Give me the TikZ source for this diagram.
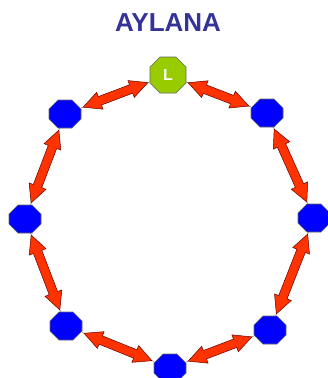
\documentclass[tikz,border=0pt]{standalone}
\usepackage{fontspec}
\setmainfont{Liberation Sans}
\usetikzlibrary{calc,backgrounds}
\definecolor{titleblue}{HTML}{333399}
\definecolor{lgreen}{HTML}{99CC00}
\definecolor{arrowred}{HTML}{FF3300}
\tikzset{
 octline/.style={draw=gray!80!black, line width=0.6pt},
 box/.style={rectangle, inner sep=0pt, draw=none},
 leadertext/.style={text=white, font=\bfseries\fontsize{16}{16}\selectfont, inner sep=0pt},
 link/.style={draw=gray, line width=0.5pt},
 barrow/.style={fill=arrowred, draw=black!60!red, line width=0.5pt, line join=miter},
 titlestyle/.style={text=titleblue, font=\bfseries\fontsize{26}{26}\selectfont},
}
% #1 name, #2 x, #3 y, #4 fill, #5 half width, #6 half height, #7 chamfer
\newcommand\octnode[7]{%
 \begin{scope}[shift={(#2,#3)}]
 \filldraw[octline, fill=#4] (-#5+#7,#6) -- (#5-#7,#6) -- (#5,#6-#7) -- (#5,-#6+#7) -- (#5-#7,-#6) -- (-#5+#7,-#6) -- (-#5,-#6+#7) -- (-#5,#6-#7) -- cycle;
 \end{scope}
 \node[box, minimum width=2*#5, minimum height=2*#6] (#1) at (#2,#3) {};
}
\newcommand\dblarrow[2]{%
 \path (#1) -- (#2) coordinate[pos=0] (s0) coordinate[pos=1] (e0);
 \begin{scope}[on background layer]\draw[link] (s0) -- (e0);\end{scope}
 \coordinate (s) at ($(s0)!2pt!(e0)$);
 \coordinate (e) at ($(e0)!2pt!(s0)$);
 \coordinate (hs) at ($(s)!18pt!(e)$);
 \coordinate (he) at ($(e)!18pt!(s)$);
 \draw[barrow] (s) -- ($(hs)!9pt!90:(e)$) -- ($(hs)!4.5pt!90:(e)$) -- ($(he)!4.5pt!-90:(s)$) -- ($(he)!9pt!-90:(s)$) -- (e) -- ($(he)!9pt!90:(s)$) -- ($(he)!4.5pt!90:(s)$) -- ($(hs)!4.5pt!-90:(e)$) -- ($(hs)!9pt!-90:(e)$) -- cycle;
}
\begin{document}
\begin{tikzpicture}[x=1pt,y=1pt]
\useasboundingbox (0,0) rectangle (328,-378);
\clip (0,0) rectangle (328,-378);
\node[titlestyle] (title) at (168,-23) {AYLANA};
\octnode{L}{168}{-75}{lgreen}{18}{18}{10}
\node[leadertext] (Ltext) at (L) {L};
\octnode{TR}{267}{-113}{blue}{16}{14}{9}
\octnode{R}{314}{-218}{blue}{16}{14}{9}
\octnode{BR}{270}{-330}{blue}{16}{14}{9}
\octnode{B}{170}{-368}{blue}{16}{14}{9}
\octnode{BL}{66}{-326}{blue}{16}{14}{9}
\octnode{Lf}{25}{-219}{blue}{16}{14}{9}
\octnode{TL}{65}{-114}{blue}{16}{14}{9}
\dblarrow{L}{TR}
\dblarrow{TR}{R}
\dblarrow{R}{BR}
\dblarrow{BR}{B}
\dblarrow{B}{BL}
\dblarrow{BL}{Lf}
\dblarrow{Lf}{TL}
\dblarrow{TL}{L}
\end{tikzpicture}
\end{document}
